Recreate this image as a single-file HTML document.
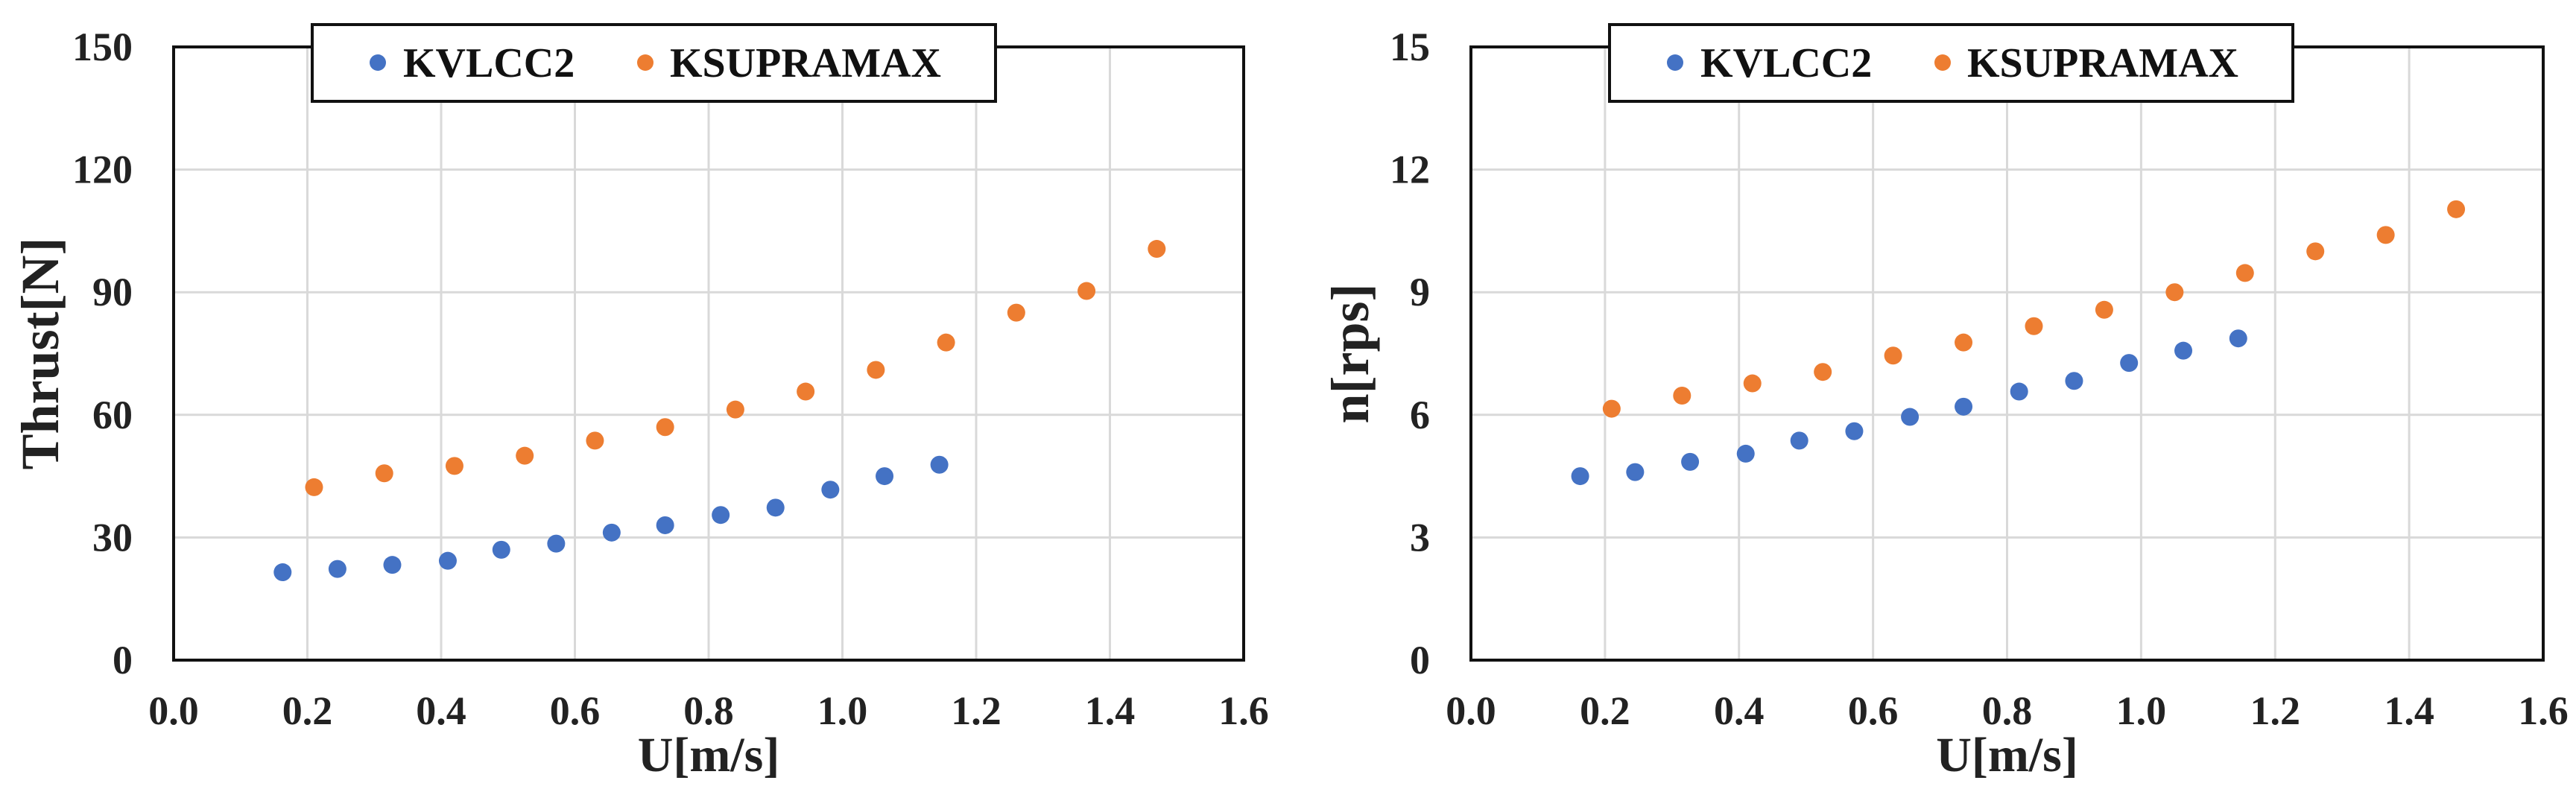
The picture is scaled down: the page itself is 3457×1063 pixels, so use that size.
<!DOCTYPE html>
<html><head><meta charset="utf-8"><style>
html,body{margin:0;padding:0;background:#fff;}
svg{display:block;font-family:"Liberation Serif",serif;}
</style></head><body>
<svg id="svg" width="3457" height="1063" viewBox="0 0 3457 1063"></svg>
<script>
const xTicks=[0.0,0.2,0.4,0.6,0.8,1.0,1.2,1.4,1.6];
const xTickLabels=["0.0","0.2","0.4","0.6","0.8","1.0","1.2","1.4","1.6"];
const thrustTicks=[0,30,60,90,120,150];
const rpsTicks=[0,3,6,9,12,15];
const kvlccU=[0.163,0.245,0.327,0.41,0.49,0.572,0.655,0.735,0.818,0.9,0.982,1.063,1.145];
const ksupU=[0.21,0.315,0.42,0.525,0.63,0.735,0.84,0.945,1.05,1.155,1.26,1.365,1.47];
const kvlccThrust=[21.5,22.3,23.3,24.3,27,28.5,31.2,33,35.5,37.3,41.7,45,47.8];
const ksupThrust=[42.3,45.7,47.5,50,53.7,57,61.3,65.7,71,77.7,85,90.3,100.6];
const kvlccRps=[4.5,4.6,4.85,5.05,5.37,5.6,5.95,6.2,6.57,6.83,7.27,7.57,7.87];
const ksupRps=[6.15,6.47,6.77,7.05,7.45,7.77,8.17,8.57,9.0,9.47,10.0,10.4,11.03];

const NS="http://www.w3.org/2000/svg";
const svg=document.getElementById('svg');
function el(tag,attrs,parent){const e=document.createElementNS(NS,tag);for(const k in attrs)e.setAttribute(k,attrs[k]);(parent||svg).appendChild(e);return e;}

function chart(prefix,L,R,T,B,yTicks,yMax,yTitle,yTitleX,s1,s2,legL,legR){
  const g=el('g',{});
  
  
  const xs=v=>L+(v-0)/1.6*(R-L);
  const ys=v=>B-v/yMax*(B-T);
  xTicks.forEach((t,i)=>{
    const gl=el('line',{x1:xs(t),x2:xs(t),y1:T,y2:B,stroke:'#d9d9d9','stroke-width':3},g);
    
    
    const tx=el('text',{x:xs(t),y:972,'text-anchor':'middle','font-size':54,'font-weight':'bold',fill:'#222'},g);
    tx.textContent=xTickLabels[i];
    
    
  });
  yTicks.forEach(t=>{
    const gl=el('line',{x1:L,x2:R,y1:ys(t),y2:ys(t),stroke:'#d9d9d9','stroke-width':3},g);
    
    
    const tx=el('text',{x:L-55,y:ys(t)+18,'text-anchor':'end','font-size':54,'font-weight':'bold',fill:'#222'},g);
    tx.textContent=String(t);
    
    
  });
  const fr=el('rect',{x:L,y:T,width:R-L,height:B-T,fill:'none',stroke:'#111','stroke-width':4},g);
  
  
  s1.forEach((v,i)=>{
    const c=el('circle',{cx:xs(kvlccU[i]),cy:ys(v),r:12,fill:'#4472C4'},g);
    
    
  });
  s2.forEach((v,i)=>{
    const c=el('circle',{cx:xs(ksupU[i]),cy:ys(v),r:12,fill:'#ED7D31'},g);
    
    
  });
  const xt=el('text',{x:(L+R)/2,y:1035,'text-anchor':'middle','font-size':66,'font-weight':'bold',fill:'#222'},g);
  xt.textContent='U[m/s]';
  
  
  const yt=el('text',{x:0,y:0,'text-anchor':'middle','font-size':72,'font-weight':'bold',fill:'#222',transform:`translate(${yTitleX},${(T+B)/2}) rotate(-90)`},g);
  yt.textContent=yTitle;
  
  
  const lg=el('g',{},g);
  
  
  el('rect',{x:legL,y:33,width:legR-legL,height:103,fill:'#fff',stroke:'#111','stroke-width':4},lg);
  const e1=el('g',{},lg);
  
  
  el('circle',{cx:legL+88,cy:84,r:11,fill:'#4472C4'},e1);
  const t1=el('text',{x:legL+122,y:103,'font-size':56,'font-weight':'bold',fill:'#111'},e1);t1.textContent='KVLCC2';
  const e2=el('g',{},lg);
  
  
  el('circle',{cx:legL+447,cy:84,r:11,fill:'#ED7D31'},e2);
  const t2=el('text',{x:legL+480,y:103,'font-size':56,'font-weight':'bold',fill:'#111'},e2);t2.textContent='KSUPRAMAX';
}
chart('thrust',233,1669,63,886,thrustTicks,150,'Thrust[N]',78,kvlccThrust,ksupThrust,419,1336);
chart('rps',1974,3413,63,886,rpsTicks,15,'n[rps]',1836,kvlccRps,ksupRps,2160,3077);
</script>
</body></html>
